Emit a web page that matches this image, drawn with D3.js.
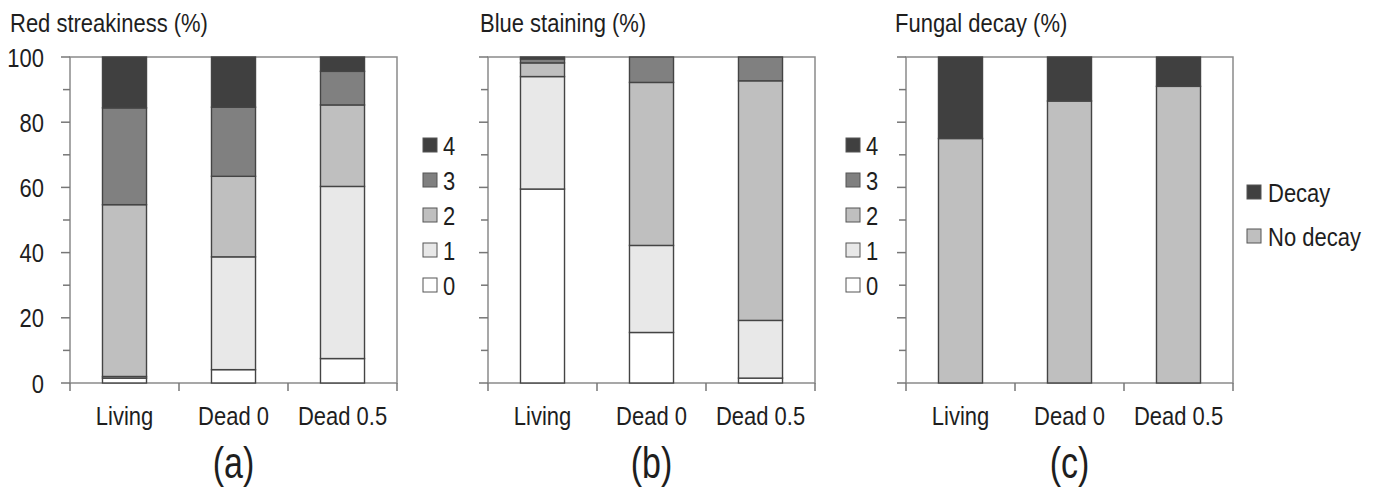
<!DOCTYPE html>
<html>
<head>
<meta charset="utf-8">
<script src="https://cdn.jsdelivr.net/npm/d3@7"></script>
<style>
  body { margin: 0; background: #fff; }
  svg { display: block; }
  text { font-family: "Liberation Sans", Arial, sans-serif; fill: #1e1e1e; }
</style>
</head>
<body>
<div id="chart"></div>
<script>
// categories and stack levels
var categories = ["Living", "Dead 0", "Dead 0.5"];
var levels = ["0", "1", "2", "3", "4"];
var decayKeys = ["No decay", "Decay"];

// percent per level 0..4, one row per category
var redStreakiness = [
    [1.5, 0.5, 52.7, 29.7, 15.6],
    [4.1, 34.6, 24.7, 21.2, 15.4],
    [7.5, 52.8, 25.0, 10.3, 4.4]
];
var blueStaining = [
    [59.5, 34.5, 4.2, 1.2, 0.6],
    [15.5, 26.7, 50.0, 7.8, 0],
    [1.5, 17.7, 73.5, 7.3, 0]
];
// no decay, decay
var fungalDecay = [
    [75.0, 25.0],
    [86.5, 13.5],
    [91.0, 9.0]
];

var yTicks = d3.range(0, 101, 10);
var yLabels = [0, 20, 40, 60, 80, 100];

var levelColor = d3.scaleOrdinal()
    .domain(levels)
    .range(["#ffffff", "#e8e8e8", "#bfbfbf", "#808080", "#404040"]);
var decayColor = d3.scaleOrdinal()
    .domain(decayKeys)
    .range(["#bfbfbf", "#404040"]);

var width = 1376, height = 489;
var plotW = 327, plotH = 326, plotTop = 57;
var stretch = 1.2; // text in the figure is drawn a bit tall

function place(x, y, s) {
    return "translate(" + x + "," + y + ") scale(1," + (s || stretch) + ")";
}

var svg = d3.select("#chart")
    .append("svg")
    .attr("width", width)
    .attr("height", height);

var panels = [
    { left: 70, title: "Red streakiness (%)", titleX: 10, tag: "(a)", rows: redStreakiness, keys: levels, color: levelColor, labels: true },
    { left: 488, title: "Blue staining (%)", titleX: 480, tag: "(b)", rows: blueStaining, keys: levels, color: levelColor, labels: false },
    { left: 906, title: "Fungal decay (%)", titleX: 895, tag: "(c)", rows: fungalDecay, keys: decayKeys, color: decayColor, labels: false }
];

var x = d3.scaleBand()
    .domain(categories)
    .range([0, plotW])
    .paddingInner(0.596)
    .paddingOuter(0.298);

var y = d3.scaleLinear()
    .domain([0, 100])
    .range([plotH, 0]);

panels.forEach(function(p) {
    var table = p.rows.map(function(r, i) {
        var o = { cat: categories[i] };
        p.keys.forEach(function(k, j) { o[k] = r[j]; });
        return o;
    });
    var series = d3.stack().keys(p.keys)(table);

    svg.append("text")
        .attr("transform", place(p.titleX, 32))
        .attr("font-size", 22)
        .text(p.title);

    var g = svg.append("g")
        .attr("transform", "translate(" + p.left + "," + plotTop + ")");

    // frame
    g.append("rect")
        .attr("width", plotW)
        .attr("height", plotH)
        .attr("fill", "none")
        .attr("stroke", "#8a8a8a")
        .attr("stroke-width", 1.5);

    // y ticks
    g.selectAll(".ytick")
        .data(yTicks)
        .enter()
        .append("line")
        .attr("x1", function(d) { return d % 20 === 0 ? -9 : -7; })
        .attr("x2", 0)
        .attr("y1", function(d) { return y(d); })
        .attr("y2", function(d) { return y(d); })
        .attr("stroke", "#777")
        .attr("stroke-width", 1.5);

    if (p.labels) {
        g.selectAll(".ylab")
            .data(yLabels)
            .enter()
            .append("text")
            .attr("transform", function(d) { return place(-26, y(d)); })
            .attr("dy", "0.36em")
            .attr("text-anchor", "end")
            .attr("font-size", 22)
            .text(function(d) { return d; });
    }

    // x boundary ticks
    g.selectAll(".xtick")
        .data(d3.range(categories.length + 1))
        .enter()
        .append("line")
        .attr("x1", function(i) { return i * x.step(); })
        .attr("x2", function(i) { return i * x.step(); })
        .attr("y1", plotH)
        .attr("y2", plotH + 8)
        .attr("stroke", "#777")
        .attr("stroke-width", 1.5);

    // stacked bars
    g.selectAll(".layer")
        .data(series)
        .enter()
        .append("g")
        .attr("fill", function(d) { return p.color(d.key); })
        .selectAll("rect")
        .data(function(d) { return d; })
        .enter()
        .filter(function(d) { return d[1] - d[0] > 0; })
        .append("rect")
        .attr("x", function(d) { return x(d.data.cat); })
        .attr("y", function(d) { return y(d[1]); })
        .attr("width", x.bandwidth())
        .attr("height", function(d) { return y(d[0]) - y(d[1]); })
        .attr("stroke", "#444")
        .attr("stroke-width", 1.4);

    // category labels
    g.selectAll(".xlab")
        .data(categories)
        .enter()
        .append("text")
        .attr("transform", function(d) { return place(x(d) + x.bandwidth() / 2, plotH + 42); })
        .attr("text-anchor", "middle")
        .attr("font-size", 22)
        .text(function(d) { return d; });

    svg.append("text")
        .attr("transform", place(p.left + plotW / 2, 478, 1.3))
        .attr("text-anchor", "middle")
        .attr("font-size", 34)
        .text(p.tag);
});

// level legends between panels
[423, 846].forEach(function(lx) {
    var leg = svg.append("g")
        .attr("transform", "translate(" + lx + ",0)");
    var items = leg.selectAll(".item")
        .data(levels.slice().reverse())
        .enter()
        .append("g")
        .attr("transform", function(d, i) { return "translate(0," + (145 + i * 35) + ")"; });
    items.append("rect")
        .attr("x", 0)
        .attr("y", -7)
        .attr("width", 14)
        .attr("height", 14)
        .attr("fill", function(d) { return levelColor(d); })
        .attr("stroke", "#555")
        .attr("stroke-width", 1);
    items.append("text")
        .attr("transform", place(20, 0))
        .attr("dy", "0.36em")
        .attr("font-size", 22)
        .text(function(d) { return d; });
});

// decay legend
var dleg = svg.append("g")
    .attr("transform", "translate(1247,0)");
var ditems = dleg.selectAll(".item")
    .data(decayKeys.slice().reverse())
    .enter()
    .append("g")
    .attr("transform", function(d, i) { return "translate(0," + (192 + i * 44) + ")"; });
ditems.append("rect")
    .attr("y", -7)
    .attr("width", 14)
    .attr("height", 14)
    .attr("fill", function(d) { return decayColor(d); })
    .attr("stroke", "#555")
    .attr("stroke-width", 1);
ditems.append("text")
    .attr("transform", place(21, 0))
    .attr("dy", "0.36em")
    .attr("font-size", 22)
    .text(function(d) { return d; });
</script>
</body>
</html>
